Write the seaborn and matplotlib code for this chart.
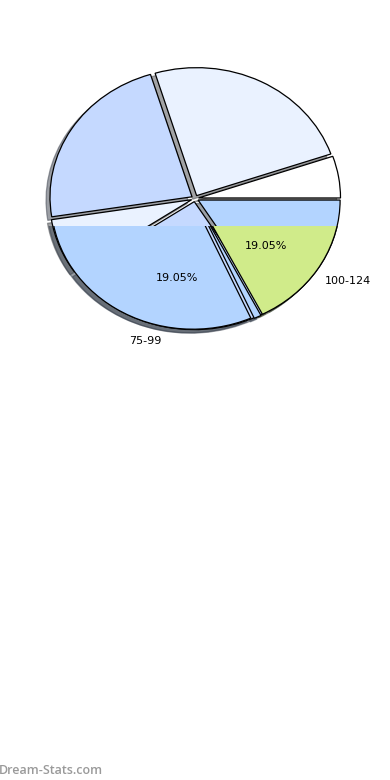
import matplotlib
matplotlib.use('Agg')
import matplotlib.pyplot as plt
import seaborn as sns
from matplotlib.patches import Rectangle

# upper pie (slice sizes in degrees, counter-clockwise from 3 o'clock)
upper_sizes = [19, 88, 82, 25, 88, 58]
upper_colors = ['#ffffff', '#eaf2ff', '#c5d9ff', '#eaf2ff', '#c5d9ff', '#b3d4ff']

# lower pie, drawn over the bottom part (degrees, counter-clockwise from 9 o'clock)
lower_sizes = [114, 3, 60, 183]
lower_colors = ['#b3d4ff', '#b3d4ff', '#d0eb8a', '#ffffff']

# labelled groups (counts) and their names
group_counts = [4, 4, 13]
group_labels = ['100-124', '75-99', '']

sns.set_theme(style='white')
plt.rcParams['font.family'] = ['DejaVu Sans']

fig = plt.figure(figsize=(3.9, 7.8), dpi=100)
# centre of the pie at about (195, 198) px, radius ~142 x 128 px
ax = fig.add_axes([17.5 / 390, 421.5 / 780, 355.0 / 390, 320.0 / 780])

wp = {'edgecolor': 'black', 'linewidth': 0.9}
expl = 0.025

ax.pie(upper_sizes, colors=upper_colors, startangle=0, counterclock=True,
       explode=[expl] * len(upper_sizes), shadow=True, wedgeprops=wp)

n_before = len(ax.patches)
ax.pie(lower_sizes, colors=lower_colors, startangle=180, counterclock=True,
       explode=[expl] * len(lower_sizes), shadow=True, wedgeprops=wp)
# pie wedges come with clip_on=False, so switch clipping back on
clip = Rectangle((-3, -3), 6, 3 - 0.215, transform=ax.transData)
for p in list(ax.patches)[n_before:]:
    p.set_clip_on(True)
    p.set_clip_path(clip)


def pct_text(p):
    return f'{p:.2f}%' if p < 50 else ''


# labels come from an invisible pie of the real group counts
ax.pie(group_counts, labels=group_labels, startangle=0.5, counterclock=False,
       center=(0, -0.035), autopct=pct_text, wedgeprops={'visible': False},
       textprops={'fontsize': 8, 'color': 'black'})

ax.set_xlim(-1.25, 1.25)
ax.set_ylim(-1.25, 1.25)
ax.set_aspect('auto')

fig.text(-0.002, 0.0125, 'Dream-Stats.com', fontsize=9, color='#9a9a9a',
         family=['Open Sans', 'DejaVu Sans'], fontweight='semibold',
         ha='left', va='center')

fig.savefig('out.png', dpi=100)
